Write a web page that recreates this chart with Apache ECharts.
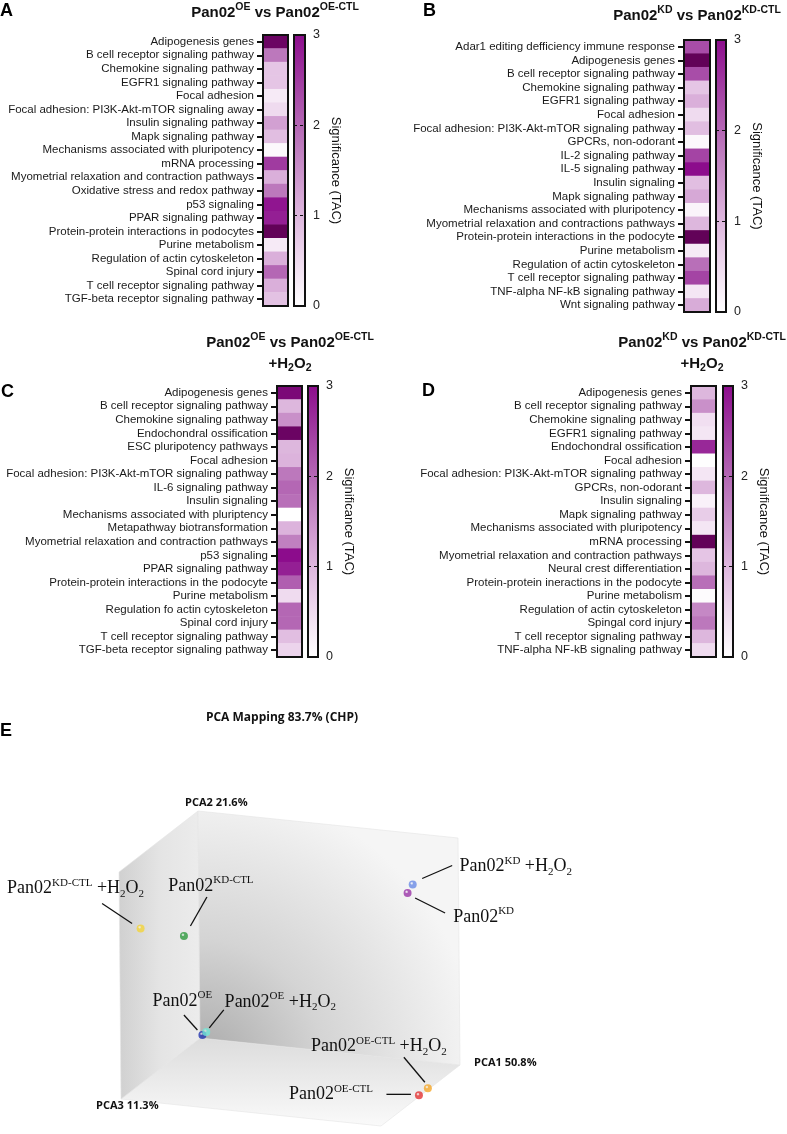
<!DOCTYPE html>
<html><head><meta charset="utf-8">
<script src="https://cdn.jsdelivr.net/npm/echarts@6/dist/echarts.min.js"></script>
<style>html,body{margin:0;padding:0;background:#fff}#c{width:787px;height:1134px}</style>
</head><body><div id="c"></div>
<script>
// ---------------- DATA ----------------
const catsA = ['Adipogenesis genes','B cell receptor signaling pathway','Chemokine signaling pathway','EGFR1 signaling pathway','Focal adhesion','Focal adhesion: PI3K-Akt-mTOR signaling away','Insulin signaling pathway','Mapk signaling pathway','Mechanisms associated with pluripotency','mRNA processing','Myometrial relaxation and contraction pathways','Oxidative stress and redox pathway','p53 signaling','PPAR signaling pathway','Protein-protein interactions in podocytes','Purine metabolism','Regulation of actin cytoskeleton','Spinal cord injury','T cell receptor signaling pathway','TGF-beta receptor signaling pathway'];
const valsA = [3.4, 1.8, 0.8, 0.8, 0.3, 0.5, 1.3, 0.9, 0.1, 2.5, 1.1, 1.8, 2.9, 2.8, 3.5, 0.3, 1.1, 2.0, 1.1, 0.85];

const catsB = ['Adar1 editing defficiency immune response','Adipogenesis genes','B cell receptor signaling pathway','Chemokine signaling pathway','EGFR1 signaling pathway','Focal adhesion','Focal adhesion: PI3K-Akt-mTOR signaling pathway','GPCRs, non-odorant','IL-2 signaling pathway','IL-5 signaling pathway','Insulin signaling','Mapk signaling pathway','Mechanisms associated with pluripotency','Myometrial relaxation and contractions pathways','Protein-protein interactions in the podocyte','Purine metabolism','Regulation of actin cytoskeleton','T cell receptor signaling pathway','TNF-alpha NF-kB signaling pathway','Wnt signaling pathway'];
const valsB = [2.3, 3.5, 2.3, 0.8, 1.1, 0.5, 0.9, 0.1, 2.4, 3.0, 0.9, 1.2, 0.15, 1.0, 3.5, 0.3, 1.9, 2.4, 0.35, 1.15];

const catsC = ['Adipogenesis genes','B cell receptor signaling pathway','Chemokine signaling pathway','Endochondral ossification','ESC pluripotency pathways','Focal adhesion','Focal adhesion: PI3K-Akt-mTOR signaling pathway','IL-6 signaling pathway','Insulin signaling','Mechanisms associated with pluriptency','Metapathway biotransformation','Myometrial relaxation and contraction pathways','p53 signaling','PPAR signaling pathway','Protein-protein interactions in the podocyte','Purine metabolism','Regulation fo actin cytoskeleton','Spinal cord injury','T cell receptor signaling pathway','TGF-beta receptor signaling pathway'];
const valsC = [3.2, 1.0, 1.5, 3.4, 1.0, 1.05, 1.8, 2.0, 1.9, 0.0, 1.05, 1.7, 3.0, 2.8, 2.1, 0.5, 2.0, 2.0, 0.9, 0.6];

const catsD = ['Adipogenesis genes','B cell receptor signaling pathway','Chemokine signaling pathway','EGFR1 signaling pathway','Endochondral ossification','Focal adhesion','Focal adhesion: PI3K-Akt-mTOR signaling pathway','GPCRs, non-odorant','Insulin signaling','Mapk signaling pathway','Mechanisms associated with pluripotency','mRNA processing','Myometrial relaxation and contraction pathways','Neural crest differentiation','Protein-protein ineractions in the podocyte','Purine metabolism','Regulation of actin cytoskeleton','Spingal cord injury','T cell receptor signaling pathway','TNF-alpha NF-kB signaling pathway'];
const valsD = [1.0, 1.5, 0.45, 0.35, 2.7, 0.02, 0.35, 1.0, 0.2, 0.7, 0.35, 3.5, 0.8, 1.0, 1.9, 0.05, 1.6, 1.8, 1.0, 0.5];

const scaleMin = 0, scaleMax = 3, scaleStep = 1;
const scaleName = 'Significance (TAC)';

// PCA (E): sample labels (rich text), colours, and PC coordinates (normalised to the cube)
const pcaLabels = [
  '{m|Pan02}{p|KD}{m| +H}{d|2}{m|O}{d|2}',
  '{m|Pan02}{p|KD}',
  '{m|Pan02}{p|KD-CTL}{m| +H}{d|2}{m|O}{d|2}',
  '{m|Pan02}{p|KD-CTL}',
  '{m|Pan02}{p|OE}',
  '{m|Pan02}{p|OE}{m| +H}{d|2}{m|O}{d|2}',
  '{m|Pan02}{p|OE-CTL}{m| +H}{d|2}{m|O}{d|2}',
  '{m|Pan02}{p|OE-CTL}'
];
const pcaColors = ['#6a8be6','#9a35a8','#f3d43a','#2e9a3e','#2336b0','#72e6d6','#f5a82a','#e33333'];
const pc1 = [0.87, 0.85, 0.02, 0.11, 0.04, 0.055, 0.998, 0.994];
const pc2 = [0.82, 0.78, 0.70, 0.61, 0.045, 0.06, 0.005, 0.0];
const pc3 = [0.15, 0.15, 0.80, 0.55, 0.10, 0.10, 0.40, 0.50];
const pcaAxisTitles = ['PCA1 50.8%','PCA2 21.6%','PCA3 11.3%'];
const pcaTitle = 'PCA Mapping 83.7% (CHP)';

// ---------------- LAYOUT / STYLE ----------------
const panels = [
  {cats: catsA, vals: valsA, hm: {left: 263, top: 35, width: 25, height: 271}, cb: {left: 294, width: 11}},
  {cats: catsB, vals: valsB, hm: {left: 684, top: 40, width: 26, height: 272}, cb: {left: 716, width: 10}},
  {cats: catsC, vals: valsC, hm: {left: 277, top: 386, width: 25, height: 271}, cb: {left: 308, width: 10}},
  {cats: catsD, vals: valsD, hm: {left: 691, top: 386, width: 25, height: 271}, cb: {left: 723, width: 10}}
];
const cmap = ['#ffffff','#ecd4ec','#d6a8d6','#bc78bc','#a444a4','#8c0c8c','#5a004e'];
const cmapMax = 3.6;

// 3D -> 2D oblique projection for panel E (units = px inside E grid)
const O = [200, 338], vA = [260, 27], vB = [-2, -227], vC = [-79, 61];
function proj(x, y, z) {
  return [O[0] + vA[0]*x + vB[0]*y + vC[0]*z, O[1] + vA[1]*x + vB[1]*y + vC[1]*z];
}
const labelLayout = [
  {dx: 103, dy: -18, l1: [9.5, -6], l2: [39.5, -19]},
  {dx: 76, dy: 24, l1: [7.5, 5], l2: [37.5, 20]},
  {dx: -65, dy: -40, l1: [-38.5, -25], l2: [-8.5, -5]},
  {dx: 27, dy: -50, l1: [23, -39], l2: [6.5, -10]},
  {dx: -20, dy: -34, l1: [-18.5, -20], l2: [-5, -5]},
  {dx: 74, dy: -30, l1: [17.5, -22], l2: [3, -4]},
  {dx: -49, dy: -42, l1: [-24, -31], l2: [-3, -6]},
  {dx: -88, dy: -1, l1: [-32.5, -1], l2: [-8, -1]}
];
const axisTitleLayout = [
  {end: [1, 0, 0], dx: 14, dy: -2},
  {end: [0, 1, 0], dx: -13, dy: -8},
  {end: [0, 0, 1], dx: -25, dy: 7}
];

const SANS = 'Liberation Sans';
const titleRich = {
  t: {fontSize: 15, fontWeight: 'bold', fontFamily: SANS, color: '#111', lineHeight: 21},
  u: {fontSize: 10.5, fontWeight: 'bold', fontFamily: SANS, color: '#111', lineHeight: 12, verticalAlign: 'top'},
  s: {fontSize: 10.5, fontWeight: 'bold', fontFamily: SANS, color: '#111', lineHeight: 12, verticalAlign: 'bottom'}
};
const serifRich = {
  m: {fontSize: 18, fontFamily: 'Liberation Serif', fill: '#111', color: '#111', lineHeight: 22},
  p: {fontSize: 11, fontFamily: 'Liberation Serif', fill: '#111', color: '#111', lineHeight: 11, verticalAlign: 'top'},
  d: {fontSize: 11, fontFamily: 'Liberation Serif', fill: '#111', color: '#111', lineHeight: 11, verticalAlign: 'bottom'}
};

// ---------------- BUILD OPTION ----------------
const grid = [], xAxis = [], yAxis = [], series = [];
const cbGradient = () => new echarts.graphic.LinearGradient(0, 0, 0, 1, [
  {offset: 0, color: cmap[5]}, {offset: 0.2, color: cmap[4]}, {offset: 0.4, color: cmap[3]},
  {offset: 0.6, color: cmap[2]}, {offset: 0.8, color: cmap[1]}, {offset: 1, color: cmap[0]}
]);

panels.forEach((p, i) => {
  const gh = 2 * i, gc = 2 * i + 1;
  grid.push({left: p.hm.left, top: p.hm.top, width: p.hm.width, height: p.hm.height,
    show: true, borderColor: '#111', borderWidth: 2, backgroundColor: 'transparent', z: 10});
  grid.push({left: p.cb.left, top: p.hm.top, width: p.cb.width, height: p.hm.height,
    show: true, borderColor: '#111', borderWidth: 2, backgroundColor: cbGradient()});
  xAxis.push({gridIndex: gh, type: 'category', data: [''], show: false});
  xAxis.push({gridIndex: gc, type: 'category', data: [''], show: false});
  yAxis.push({gridIndex: gh, type: 'category', data: p.cats, inverse: true,
    axisLine: {show: true, lineStyle: {color: '#111', width: 2}},
    axisTick: {show: true, alignWithLabel: true, length: 6, lineStyle: {color: '#111', width: 2}},
    axisLabel: {fontSize: 11.5, color: '#1a1a1a', fontFamily: SANS, margin: 9, interval: 0},
    splitLine: {show: false}});
  yAxis.push({gridIndex: gc, type: 'value', min: scaleMin, max: scaleMax, interval: scaleStep, position: 'right',
    axisLine: {show: false}, axisTick: {show: false},
    axisLabel: {fontSize: 12.5, color: '#222', fontFamily: SANS, margin: 8},
    splitLine: {show: true, lineStyle: {color: '#111', type: [3, 3], width: 1}},
    name: scaleName, nameLocation: 'middle', nameRotate: -90, nameGap: 24,
    nameTextStyle: {fontSize: 13, color: '#111', fontFamily: SANS}});
  series.push({type: 'heatmap', xAxisIndex: gh, yAxisIndex: gh,
    data: p.vals.map((v, r) => [0, r, v]), itemStyle: {borderWidth: 0}, emphasis: {disabled: true}});
});

// Panel E grid
grid.push({left: 0, top: 700, width: 787, height: 434, show: false});
xAxis.push({gridIndex: 8, type: 'value', min: 0, max: 787, show: false});
yAxis.push({gridIndex: 8, type: 'value', min: 0, max: 434, inverse: true, show: false});

const cubeFaces = [
  {corners: [[0,0,0],[1,0,0],[1,0,1],[0,0,1]],
   fill: () => new echarts.graphic.LinearGradient(0, 0, 0, 1, [{offset: 0, color: '#dcdcdc'}, {offset: 1, color: '#fafafa'}])},
  {corners: [[0,0,0],[0,1,0],[0,1,1],[0,0,1]],
   fill: () => new echarts.graphic.LinearGradient(0, 0, 1, 0, [{offset: 0, color: '#d0d0d0'}, {offset: 0.5, color: '#e4e4e4'}, {offset: 1, color: '#ececec'}])},
  {corners: [[0,0,0],[1,0,0],[1,1,0],[0,1,0]],
   fill: () => new echarts.graphic.RadialGradient(0, 1, 1.1, [{offset: 0, color: '#a8a8a8'}, {offset: 0.45, color: '#d4d4d4'}, {offset: 1, color: '#f5f5f5'}])}
];

series.push({type: 'custom', xAxisIndex: 8, yAxisIndex: 8, z: 1, silent: true,
  data: cubeFaces.map((f, i) => [i]),
  renderItem: (params, api) => {
    const f = cubeFaces[api.value(0)];
    const pts = f.corners.map(c => api.coord(proj(c[0], c[1], c[2])));
    return {type: 'polygon', shape: {points: pts}, style: {fill: f.fill(), stroke: '#e4e4e4', lineWidth: 0.6}};
  }
});

series.push({type: 'custom', xAxisIndex: 8, yAxisIndex: 8, z: 2, silent: true,
  data: pcaAxisTitles.map((t, i) => [i]),
  renderItem: (params, api) => {
    const i = api.value(0), L = axisTitleLayout[i];
    const p = api.coord(proj(L.end[0], L.end[1], L.end[2]));
    return {type: 'text', x: p[0] + L.dx, y: p[1] + L.dy,
      style: {text: pcaAxisTitles[i], fill: '#111', fontSize: 11, fontWeight: 'bold', fontFamily: 'Open Sans',
        align: 'left', verticalAlign: 'middle'}};
  }
});

series.push({type: 'scatter', xAxisIndex: 8, yAxisIndex: 8, z: 3, symbolSize: 8,
  data: pcaLabels.map((l, i) => ({value: proj(pc1[i], pc2[i], pc3[i]),
    itemStyle: {color: new echarts.graphic.RadialGradient(0.38, 0.35, 0.7, [{offset: 0, color: 'rgba(255,255,255,0.55)'}, {offset: 0.3, color: pcaColors[i]}, {offset: 1, color: pcaColors[i]}])}})),
  emphasis: {disabled: true}
});

series.push({type: 'custom', xAxisIndex: 8, yAxisIndex: 8, z: 4, silent: true,
  data: pcaLabels.map((l, i) => [i]),
  renderItem: (params, api) => {
    const i = api.value(0), L = labelLayout[i];
    const p = api.coord(proj(pc1[i], pc2[i], pc3[i]));
    return {type: 'group', children: [
      {type: 'line', shape: {x1: p[0] + L.l1[0], y1: p[1] + L.l1[1], x2: p[0] + L.l2[0], y2: p[1] + L.l2[1]},
        style: {stroke: '#111', lineWidth: 1.3}},
      {type: 'text', x: p[0] + L.dx, y: p[1] + L.dy,
        style: {text: pcaLabels[i], rich: serifRich, fill: '#111', fontSize: 18, fontFamily: 'Liberation Serif',
          align: 'center', verticalAlign: 'middle'}}
    ]};
  }
});

const letter = (txt, left, top) => ({text: txt, left, top, padding: 0,
  textStyle: {fontSize: 18, fontWeight: 'bold', fontFamily: SANS, color: '#000'}});
const title = [
  letter('A', 0, 2), letter('B', 423, 2), letter('C', 1, 383), letter('D', 422, 382), letter('E', 0, 722),
  {text: '{t|Pan02}{u|OE}{t| vs Pan02}{u|OE-CTL}', left: 275, top: 2, textAlign: 'center', padding: 0, textStyle: {rich: titleRich}},
  {text: '{t|Pan02}{u|KD}{t| vs Pan02}{u|KD-CTL}', left: 697, top: 5, textAlign: 'center', padding: 0, textStyle: {rich: titleRich}},
  {text: '{t|Pan02}{u|OE}{t| vs Pan02}{u|OE-CTL}\n{t|+H}{s|2}{t|O}{s|2}', left: 290, top: 332, textAlign: 'center', padding: 0, textStyle: {rich: titleRich}},
  {text: '{t|Pan02}{u|KD}{t| vs Pan02}{u|KD-CTL}\n{t|+H}{s|2}{t|O}{s|2}', left: 702, top: 332, textAlign: 'center', padding: 0, textStyle: {rich: titleRich}},
  {text: pcaTitle, left: 282, top: 712, textAlign: 'center', padding: 0,
    textStyle: {fontSize: 12, fontWeight: 'bold', fontFamily: 'Open Sans', color: '#111'}}
];

const chart = echarts.init(document.getElementById('c'), null, {renderer: 'canvas'});
chart.setOption({
  animation: false,
  backgroundColor: '#ffffff',
  title, grid, xAxis, yAxis, series,
  visualMap: {type: 'continuous', show: false, seriesIndex: [0, 1, 2, 3], min: 0, max: cmapMax,
    inRange: {color: cmap}}
});
</script></body></html>
